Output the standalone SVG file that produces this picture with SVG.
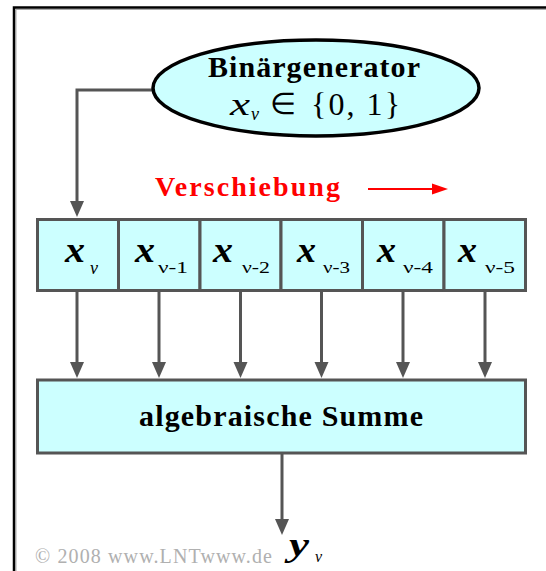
<svg xmlns="http://www.w3.org/2000/svg" width="546" height="571" viewBox="0 0 546 571">
<style>
.lbl{font-family:"Liberation Serif","Times New Roman",serif;fill:#000}
.b{font-weight:bold}
.i{font-style:italic}
.cell{fill:#ccffff;stroke:#555;stroke-width:3}
.con{fill:none;stroke:#555;stroke-width:3}
</style>
<defs>
<marker id="ah" markerUnits="userSpaceOnUse" markerWidth="16" markerHeight="16" refX="8" refY="8" orient="auto">
<path d="M0,1 L16,8 L0,15 z" fill="#555"/>
</marker>
<marker id="ahr" markerUnits="userSpaceOnUse" markerWidth="16" markerHeight="14" refX="8" refY="7" orient="auto">
<path d="M0,1.5 L16,7 L0,12.5 z" fill="#f00"/>
</marker>
</defs>
<rect width="546" height="571" fill="#fff"/>
<g id="frame">
<path d="M16,571 V9.5 H546" fill="none" stroke="#aaa" stroke-width="1"/>
<path d="M14,571 V7.5 H546" fill="none" stroke="#000" stroke-width="2.5"/>
</g>
<g id="connectors">
<path class="con" d="M153,90 H77 V209" marker-end="url(#ah)"/>
<path class="con" d="M77,292 V370" marker-end="url(#ah)"/>
<path class="con" d="M159,292 V370" marker-end="url(#ah)"/>
<path class="con" d="M240.5,292 V370" marker-end="url(#ah)"/>
<path class="con" d="M321.5,292 V370" marker-end="url(#ah)"/>
<path class="con" d="M403,292 V370" marker-end="url(#ah)"/>
<path class="con" d="M485,292 V370" marker-end="url(#ah)"/>
<path class="con" d="M282,454 V527" marker-end="url(#ah)"/>
<path d="M368,189 H440" stroke="#f00" stroke-width="2" fill="none" marker-end="url(#ahr)"/>
</g>
<g id="generator">
<ellipse cx="316" cy="88" rx="163" ry="48" fill="#ccffff" stroke="#000" stroke-width="3.5"/>
<text class="lbl b" x="208" y="77" font-size="30" textLength="212" lengthAdjust="spacing">Binärgenerator</text>
<text class="lbl i" x="230" y="115" font-size="32" textLength="20" lengthAdjust="spacingAndGlyphs">x</text>
<text class="lbl i" x="251" y="120" font-size="18">ν</text>
<text class="lbl" x="270" y="114" font-size="30">∈</text>
<text class="lbl" x="311" y="115" font-size="32" textLength="89" lengthAdjust="spacing">{0, 1}</text>
</g>
<g id="shift-label">
<text class="lbl b" x="155" y="196" font-size="28" style="fill:#f00" textLength="185" lengthAdjust="spacing">Verschiebung</text>
</g>
<g id="cell0"><rect class="cell" x="37.5" y="219.5" width="81" height="71"/>
<text class="lbl b i" x="65" y="262" font-size="36" textLength="20" lengthAdjust="spacingAndGlyphs">x</text>
<text class="lbl i" x="90" y="274" font-size="18">ν</text></g>
<g id="cell1"><rect class="cell" x="118.5" y="219.5" width="81.5" height="71"/>
<text class="lbl b i" x="135" y="262" font-size="36" textLength="20" lengthAdjust="spacingAndGlyphs">x</text>
<text class="lbl" x="158" y="273" font-size="17" textLength="30" lengthAdjust="spacingAndGlyphs">ν-1</text></g>
<g id="cell2"><rect class="cell" x="200" y="219.5" width="81" height="71"/>
<text class="lbl b i" x="213" y="262" font-size="36" textLength="20" lengthAdjust="spacingAndGlyphs">x</text>
<text class="lbl" x="242" y="273" font-size="17" textLength="28" lengthAdjust="spacingAndGlyphs">ν-2</text></g>
<g id="cell3"><rect class="cell" x="281" y="219.5" width="81.5" height="71"/>
<text class="lbl b i" x="297" y="262" font-size="36" textLength="19" lengthAdjust="spacingAndGlyphs">x</text>
<text class="lbl" x="323" y="273" font-size="17" textLength="27" lengthAdjust="spacingAndGlyphs">ν-3</text></g>
<g id="cell4"><rect class="cell" x="362.5" y="219.5" width="81.5" height="71"/>
<text class="lbl b i" x="377" y="262" font-size="36" textLength="19" lengthAdjust="spacingAndGlyphs">x</text>
<text class="lbl" x="403" y="273" font-size="17" textLength="30" lengthAdjust="spacingAndGlyphs">ν-4</text></g>
<g id="cell5"><rect class="cell" x="444" y="219.5" width="81.5" height="71"/>
<text class="lbl b i" x="458" y="262" font-size="36" textLength="19" lengthAdjust="spacingAndGlyphs">x</text>
<text class="lbl" x="485" y="273" font-size="17" textLength="30" lengthAdjust="spacingAndGlyphs">ν-5</text></g>
<g id="sum"><rect class="cell" x="37.5" y="380" width="488" height="73"/>
<text class="lbl b" x="139" y="426" font-size="30" textLength="284" lengthAdjust="spacing">algebraische Summe</text></g>
<g id="output">
<text class="lbl b i" x="289" y="556" font-size="34" textLength="20" lengthAdjust="spacingAndGlyphs">y</text>
<text class="lbl i" x="315" y="562" font-size="16">ν</text>
</g>
<text x="35" y="563" font-family="Liberation Serif, serif" font-size="20" fill="#b0b0b0" textLength="237" lengthAdjust="spacing">© 2008 www.LNTwww.de</text>
</svg>
